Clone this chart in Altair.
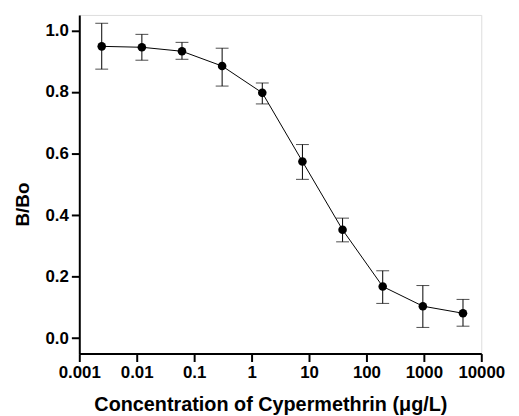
import altair as alt
import pandas as pd

conc = [0.002458, 0.01229, 0.0614, 0.307, 1.536, 7.68, 38.4, 192, 960, 4800]
bbo = [0.948, 0.945, 0.932, 0.884, 0.797, 0.574, 0.352, 0.168, 0.104, 0.081]
err_hi = [1.023, 0.987, 0.961, 0.942, 0.829, 0.629, 0.390, 0.219, 0.171, 0.126]
err_lo = [0.874, 0.903, 0.906, 0.819, 0.761, 0.516, 0.313, 0.113, 0.035, 0.039]
x_ticks = [0.001, 0.01, 0.1, 1, 10, 100, 1000, 10000]
y_ticks = [0.0, 0.2, 0.4, 0.6, 0.8, 1.0]

df = pd.DataFrame({"conc": conc, "bbo": bbo, "hi": err_hi, "lo": err_lo})

font = "Liberation Sans"
xs = alt.Scale(type="log", domain=[0.001, 10000], nice=False)
ys = alt.Scale(domain=[-0.05, 1.05], nice=False, zero=False)

xenc = alt.X("conc:Q", scale=xs,
             axis=alt.Axis(values=x_ticks, format="~g", title="Concentration of Cypermethrin (μg/L)",
                           labelFlush=False, grid=False, tickColor="black", domainColor="black",
                           domainWidth=2, tickWidth=2, tickSize=8, labelFont=font, labelFontSize=17,
                           labelFontWeight="bold", labelColor="black", labelPadding=3,
                           titleFont=font, titleFontSize=20, titleFontWeight="bold", titleColor="black",
                           titleX=193, titleY=57, titleBaseline="alphabetic"))
yenc = alt.Y("bbo:Q", scale=ys,
             axis=alt.Axis(values=y_ticks, format=".1f", title="B/Bo", grid=False,
                           tickColor="black", domainColor="black", domainWidth=2, tickWidth=2,
                           tickSize=8, labelFont=font, labelFontSize=17, labelFontWeight="bold",
                           labelColor="black", labelPadding=3, titleFont=font, titleFontSize=19,
                           titleFontWeight="bold", titleColor="black",
                           titleX=-51, titleY=191, titleBaseline="alphabetic", titleAlign="center"))

base = alt.Chart(df)
line = base.mark_line(color="black", strokeWidth=1).encode(x=xenc, y=yenc)
bars = base.mark_rule(color="black", strokeWidth=1).encode(x="conc:Q", y="lo:Q", y2="hi:Q")
cap_hi = base.mark_tick(color="black", orient="horizontal", size=13, thickness=1).encode(x="conc:Q", y="hi:Q")
cap_lo = base.mark_tick(color="black", orient="horizontal", size=13, thickness=1).encode(x="conc:Q", y="lo:Q")
pts = base.mark_point(filled=True, color="black", size=75, opacity=1).encode(x="conc:Q", y="bbo:Q")

chart = alt.layer(line, bars, cap_hi, cap_lo, pts).properties(
    width=406, height=342,
    autosize=alt.AutoSizeParams(type="none"),
    padding={"left": 72, "top": 5, "right": 30, "bottom": 60},
).configure_view(stroke="black", strokeWidth=1.5).configure(background="white")

chart.save("out.html", embed_options={"renderer": "svg", "actions": False})
